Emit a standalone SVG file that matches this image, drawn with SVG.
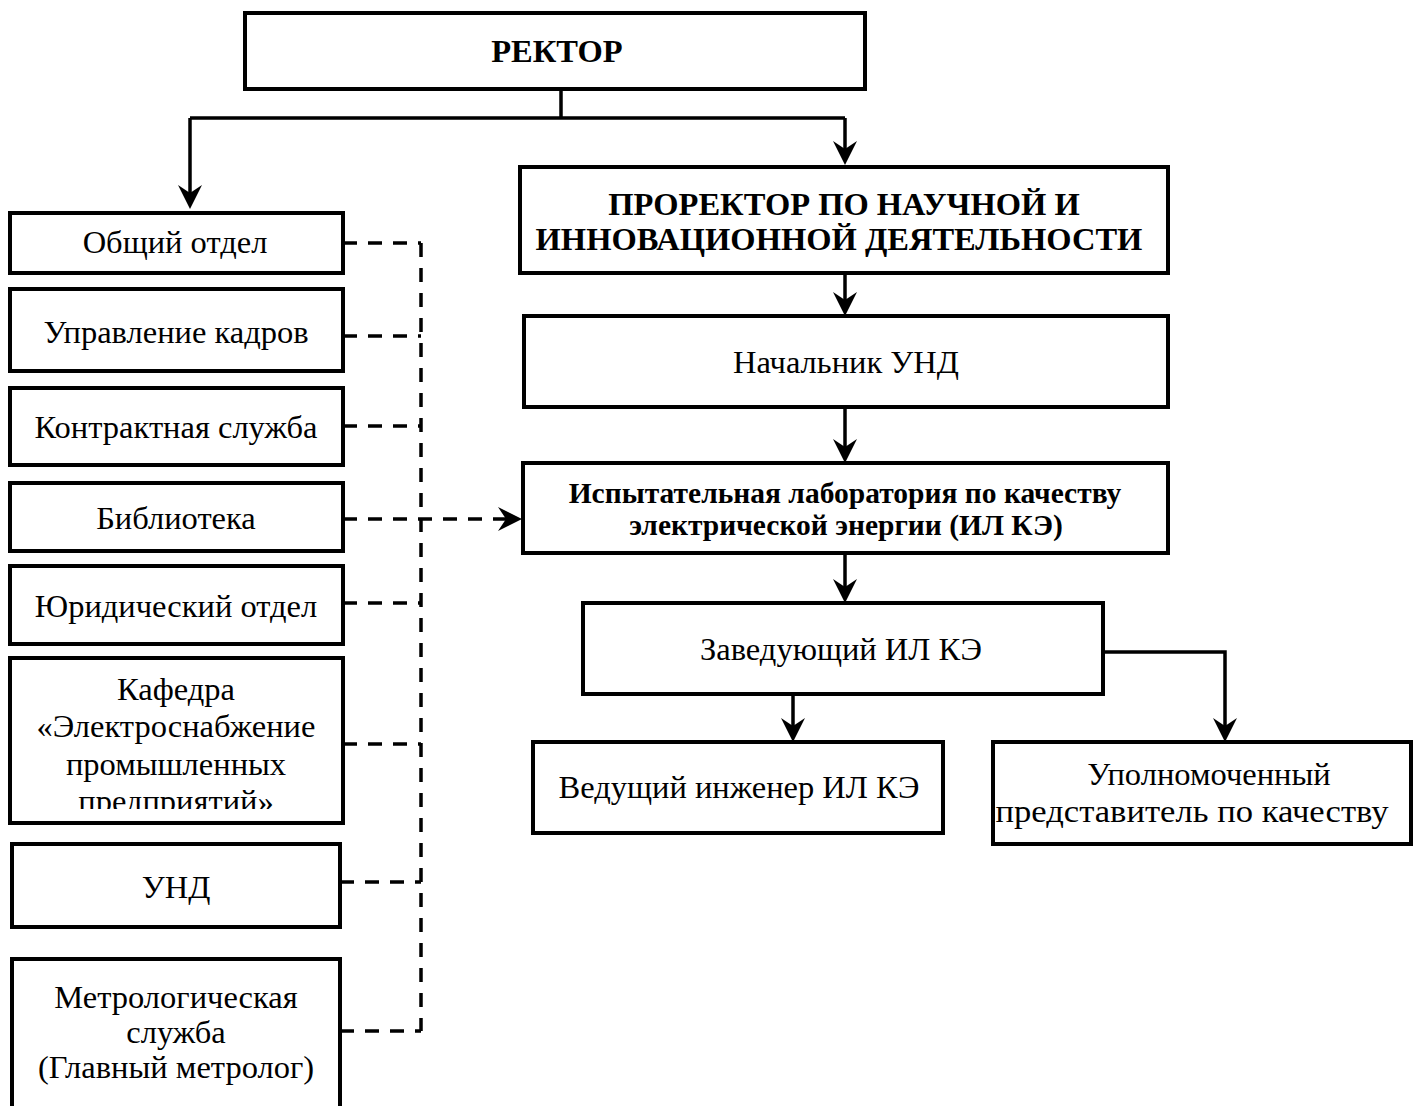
<svg xmlns="http://www.w3.org/2000/svg" width="1413" height="1106" viewBox="0 0 1413 1106">
<style>
.box{fill:#fff;stroke:#000;stroke-width:4}
.t{font-family:"Liberation Serif","Times New Roman",serif;font-size:32.5px;fill:#000;text-anchor:middle}
.b{font-weight:bold}
.s{font-size:29.5px}
.c{fill:none;stroke:#000;stroke-width:3.5}
.d{fill:none;stroke:#000;stroke-width:3.5;stroke-dasharray:14 11}
</style>
<defs>
<marker id="ah" markerUnits="userSpaceOnUse" viewBox="-18 -14 28 28" markerWidth="28" markerHeight="28" refX="0" refY="0" orient="auto">
<path d="M8,0 L-16,-12 L-8,0 L-16,12 Z" fill="#000"/>
</marker>
<clipPath id="kclip"><rect x="10" y="658" width="333" height="151"/></clipPath>
</defs>
<g id="connectors">
<path class="c" d="M561,89 V118 M190,118 H845"/>
<path class="c" d="M190,118 V201" marker-end="url(#ah)"/>
<path class="c" d="M845,118 V157" marker-end="url(#ah)"/>
<path class="c" d="M845,273 V308" marker-end="url(#ah)"/>
<path class="c" d="M845,407 V455" marker-end="url(#ah)"/>
<path class="c" d="M845,553 V595" marker-end="url(#ah)"/>
<path class="c" d="M793,694 V734" marker-end="url(#ah)"/>
<path class="c" d="M1103,652 H1225 V734" marker-end="url(#ah)"/>
<path class="d" d="M343,243 H421 M343,336 H421 M343,426 H421 M343,603 H421 M343,744 H421 M340,882 H421 M340,1031 H421 M421,243 V1031"/>
<path class="d" d="M343,519 H514" marker-end="url(#ah)"/>
</g>
<g id="rector"><rect class="box" x="245" y="13" width="620" height="76"/><text class="t b" x="557" y="62">РЕКТОР</text></g>
<g id="prorector"><rect class="box" x="520" y="167" width="648" height="106"/><text class="t b" x="844" y="215">ПРОРЕКТОР ПО НАУЧНОЙ И</text><text class="t b" x="839" y="250">ИННОВАЦИОННОЙ ДЕЯТЕЛЬНОСТИ</text></g>
<g id="nach-und"><rect class="box" x="524" y="316" width="644" height="91"/><text class="t" x="846" y="373">Начальник УНД</text></g>
<g id="il-ke"><rect class="box" x="523" y="463" width="645" height="90"/><text class="t b s" x="845" y="503">Испытательная лаборатория по качеству</text><text class="t b s" x="846" y="535">электрической энергии (ИЛ КЭ)</text></g>
<g id="zav"><rect class="box" x="583" y="603" width="520" height="91"/><text class="t" x="841" y="660">Заведующий ИЛ КЭ</text></g>
<g id="ved"><rect class="box" x="533" y="742" width="410" height="91"/><text class="t" x="739" y="798">Ведущий инженер ИЛ КЭ</text></g>
<g id="upoln"><rect class="box" x="993" y="742" width="418" height="102"/><text class="t" x="1209" y="785">Уполномоченный</text><text class="t" x="1192" y="822" textLength="393" lengthAdjust="spacingAndGlyphs">представитель по качеству</text></g>
<g id="obsh"><rect class="box" x="10" y="213" width="333" height="60"/><text class="t" x="175" y="253">Общий отдел</text></g>
<g id="kadry"><rect class="box" x="10" y="289" width="333" height="82"/><text class="t" x="176" y="343">Управление кадров</text></g>
<g id="kontrakt"><rect class="box" x="10" y="388" width="333" height="77"/><text class="t" x="176" y="438">Контрактная служба</text></g>
<g id="biblio"><rect class="box" x="10" y="483" width="333" height="68"/><text class="t" x="176" y="529">Библиотека</text></g>
<g id="yurid"><rect class="box" x="10" y="566" width="333" height="78"/><text class="t" x="176" y="617">Юридический отдел</text></g>
<g id="kafedra"><rect class="box" x="10" y="658" width="333" height="165"/><g clip-path="url(#kclip)"><text class="t" x="176" y="700">Кафедра</text><text class="t" x="176" y="737">«Электроснабжение</text><text class="t" x="176" y="775">промышленных</text><text class="t" x="176" y="812">предприятий»</text></g></g>
<g id="und"><rect class="box" x="12" y="844" width="328" height="83"/><text class="t" x="176" y="898">УНД</text></g>
<g id="metro"><rect class="box" x="12" y="959" width="328" height="160"/><text class="t" x="176" y="1008">Метрологическая</text><text class="t" x="176" y="1043">служба</text><text class="t" x="176" y="1078">(Главный метролог)</text></g>
</svg>
